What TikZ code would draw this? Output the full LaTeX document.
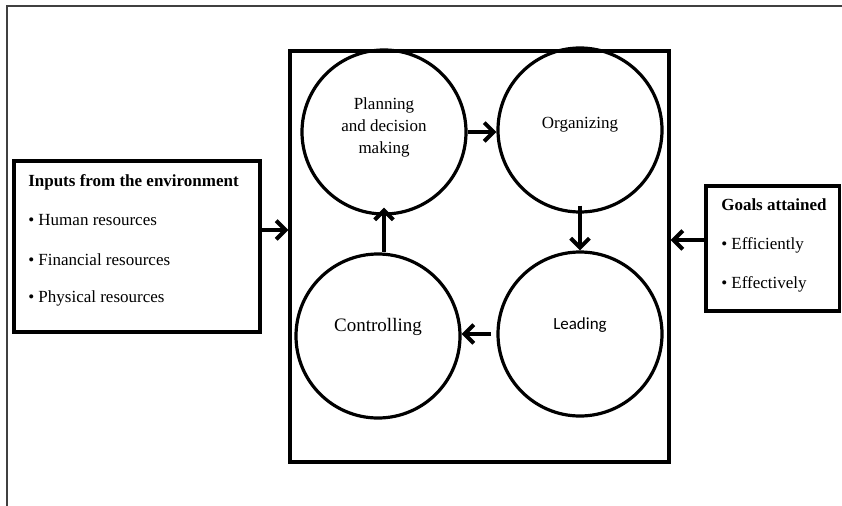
\documentclass[tikz,border=0pt]{standalone}
\usepackage{fontspec}
\setmainfont{Liberation Serif}
\newfontfamily\leadfont{Carlito}
\usetikzlibrary{arrows.meta}
\begin{document}
\begin{tikzpicture}[x=0.75pt,y=-0.75pt,
  frame/.style={draw=black!75,line width=1.2pt},
  boxshape/.style={draw,line width=2.5pt,inner sep=0pt},
  stage/.style={draw,circle,line width=2.4pt,minimum size=123pt,inner sep=0pt},
  txt/.style={font=\fontsize{12.75pt}{16.5pt}\selectfont,inner sep=0pt},
  item/.style={txt,anchor=west},
  arr/.style={line width=3pt,-{Straight Barb[length=7pt,width=14pt,line width=3pt]}}]
\useasboundingbox (0,0) rectangle (842,506);
% outer frame (top and left edges only)
\draw[frame] (7,506) -- (7,6) -- (842,6);
% input, management and goal boxes
\node[boxshape,minimum width=184.5pt,minimum height=128.25pt] (inbox) at (137,246.5) {};
\node[boxshape,minimum width=284.25pt,minimum height=308.25pt] (mgmt) at (479.5,256.5) {};
\node[boxshape,minimum width=100pt,minimum height=93.75pt] (goalbox) at (772.75,248.5) {};
% input texts
\node[item,font=\fontsize{12.75pt}{16.5pt}\selectfont\bfseries] (intitle) at (28,182) {Inputs from the environment};
\node[item] (inhuman) at (28,220) {• Human resources};
\node[item] (infin) at (28,260) {• Financial resources};
\node[item] (inphys) at (28,298) {• Physical resources};
% goal texts
\node[item,font=\fontsize{12.75pt}{16.5pt}\selectfont\bfseries] (goaltitle) at (721,205) {Goals attained};
\node[item] (goaleff1) at (721,245) {• Efficiently};
\node[item] (goaleff2) at (721,284) {• Effectively};
% the four management functions
\node[stage] (plan) at (384,132) {};
\node[stage] (org) at (580,130) {};
\node[stage] (ctrl) at (378,336) {};
\node[stage] (lead) at (580,334) {};
\node[txt,align=center] (plantxt) at (384,127) {Planning\\and decision\\making};
\node[txt] (orgtxt) at (580,125) {Organizing};
\node[txt,font=\fontsize{14.25pt}{17pt}\selectfont] (ctrltxt) at (378,327) {Controlling};
\node[txt,font=\leadfont\fontsize{12.75pt}{16pt}\selectfont] (leadtxt) at (580,325) {Leading};
% cycle arrows
\draw[arr] (plan.east) -- (plan.east -| org.west);
\draw[arr,shorten <=-6pt] (org.south) -- (lead.north);
\draw[arr,shorten <=4pt] (lead.west) -- (lead.west -| ctrl.east);
\draw[arr,shorten >=-6pt] (plan.south |- ctrl.north) -- (plan.south);
% input and goal arrows
\draw[arr] ([yshift=12.4pt]inbox.east) -- ([yshift=12.4pt]inbox.east -| mgmt.west);
\draw[arr] ([yshift=6.4pt]goalbox.west) -- ([yshift=6.4pt]goalbox.west -| mgmt.east);
\end{tikzpicture}
\end{document}
